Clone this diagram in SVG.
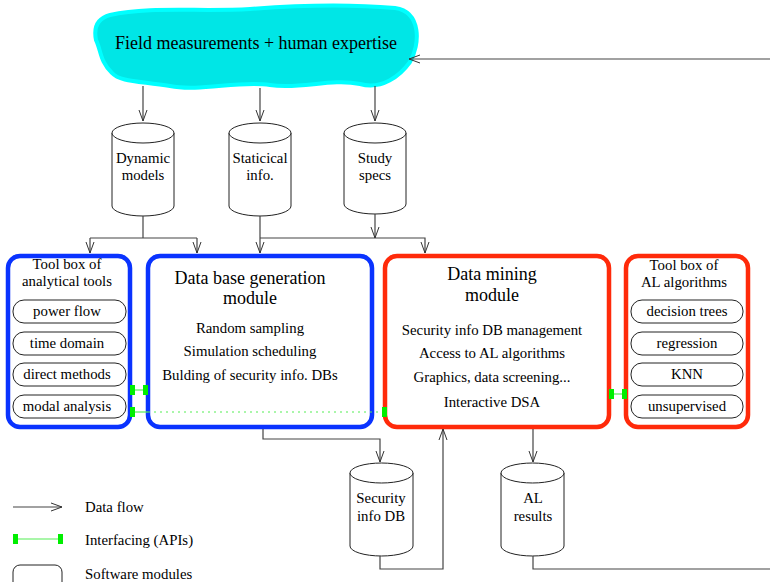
<svg xmlns="http://www.w3.org/2000/svg" width="770" height="582" viewBox="0 0 770 582" font-family="'Liberation Serif', 'DejaVu Serif', serif">
<defs>
<marker id="arr" markerWidth="12" markerHeight="10" refX="11" refY="5" orient="auto" markerUnits="userSpaceOnUse">
<polyline points="0,1 11,5 0,9" fill="none" stroke="#333" stroke-width="1"/>
</marker>
</defs>
<style>
text{font-family:'Liberation Serif','DejaVu Serif',serif;fill:#000;text-anchor:middle}
.t14{font-size:14.8px}
.t18{font-size:18px}
.flow{fill:none;stroke:#444;stroke-width:1.2}
.cyl{fill:#fff;stroke:#222;stroke-width:1}
.pill{fill:#fff;stroke:#222;stroke-width:1}
.blue{fill:#fff;stroke:#0a33ff;stroke-width:4.5}
.red{fill:#fff;stroke:#ff2a0a;stroke-width:4.5}
.api{stroke:#55ee55;stroke-width:1.2}
.sq{fill:#00ee00}
</style>

<g id="cloud">
<path d="M110,15 C150,6 200,12 250,9 C300,5 350,4 395,8 C422,12 420,45 410,62 C400,76 382,90 360,84 C330,78 300,90 270,85 C240,80 200,92 170,86 C140,81 120,82 112,73 C100,62 101,50 96,40 C93,25 99,18 110,15 Z" fill="#00e6e6" stroke="#00ffff" stroke-width="4"/>
<text x="256" y="49" style="font-size:18px">Field measurements + human expertise</text>
</g>

<g id="cyl-dynamic">
<path class="cyl" d="M112,133 A31,10 0 0 1 174,133 L174,206 A31,10 0 0 1 112,206 Z"/>
<path class="cyl" d="M112,133 A31,10 0 0 0 174,133" fill="none"/>
<text class="t14" x="143" y="163">Dynamic</text>
<text class="t14" x="143" y="180">models</text>
</g>
<g id="cyl-static">
<path class="cyl" d="M229,133 A31,10 0 0 1 291,133 L291,206 A31,10 0 0 1 229,206 Z"/>
<path class="cyl" d="M229,133 A31,10 0 0 0 291,133" fill="none"/>
<text class="t14" x="260" y="163">Staticical</text>
<text class="t14" x="260" y="180">info.</text>
</g>
<g id="cyl-study">
<path class="cyl" d="M344,133 A31,10 0 0 1 406,133 L406,204 A31,10 0 0 1 344,204 Z"/>
<path class="cyl" d="M344,133 A31,10 0 0 0 406,133" fill="none"/>
<text class="t14" x="375" y="163">Study</text>
<text class="t14" x="375" y="180">specs</text>
</g>

<g id="toolbox-analytical">
<rect class="blue" x="8" y="256" width="122" height="171" rx="12"/>
<text class="t14" x="67" y="269">Tool box of</text>
<text class="t14" x="67" y="286">analytical tools</text>
<rect class="pill" x="13" y="300" width="113" height="23" rx="11"/>
<text class="t14" x="67" y="316">power flow</text>
<rect class="pill" x="13" y="332" width="113" height="23" rx="11"/>
<text class="t14" x="67" y="348">time domain</text>
<rect class="pill" x="13" y="363" width="113" height="23" rx="11"/>
<text class="t14" x="67" y="379">direct methods</text>
<rect class="pill" x="13" y="395" width="113" height="23" rx="11"/>
<text class="t14" x="67" y="411">modal analysis</text>
</g>

<g id="dbgen">
<rect class="blue" x="148" y="256" width="224" height="171" rx="12"/>
<text class="t18" x="250" y="284">Data base generation</text>
<text class="t18" x="250" y="304">module</text>
<text class="t14" x="250" y="333">Random sampling</text>
<text class="t14" x="250" y="356">Simulation scheduling</text>
<text class="t14" x="250" y="380">Bulding of security info. DBs</text>
</g>

<g id="datamining">
<rect class="red" x="385" y="256" width="224" height="171" rx="12"/>
<text class="t18" x="492" y="280">Data mining</text>
<text class="t18" x="492" y="301">module</text>
<text class="t14" x="492" y="335">Security info DB management</text>
<text class="t14" x="492" y="358">Access to AL algorithms</text>
<text class="t14" x="492" y="382">Graphics, data screening...</text>
<text class="t14" x="492" y="407">Interactive DSA</text>
</g>

<g id="toolbox-al">
<rect class="red" x="626" y="256" width="122" height="171" rx="12"/>
<text class="t14" x="684" y="270">Tool box of</text>
<text class="t14" x="684" y="287">AL algorithms</text>
<rect class="pill" x="631" y="300" width="112" height="23" rx="11"/>
<text class="t14" x="687" y="316">decision trees</text>
<rect class="pill" x="631" y="332" width="112" height="23" rx="11"/>
<text class="t14" x="687" y="348">regression</text>
<rect class="pill" x="631" y="363" width="112" height="23" rx="11"/>
<text class="t14" x="687" y="379">KNN</text>
<rect class="pill" x="631" y="395" width="112" height="23" rx="11"/>
<text class="t14" x="687" y="411">unsupervised</text>
</g>

<g id="cyl-secdb">
<path class="cyl" d="M350,473 A31.5,10 0 0 1 413,473 L413,546 A31.5,10 0 0 1 350,546 Z"/>
<path class="cyl" d="M350,473 A31.5,10 0 0 0 413,473" fill="none"/>
<text class="t14" x="381" y="503">Security</text>
<text class="t14" x="381" y="521">info DB</text>
</g>
<g id="cyl-alresults">
<path class="cyl" d="M501,473 A31.5,10 0 0 1 564,473 L564,546 A31.5,10 0 0 1 501,546 Z"/>
<path class="cyl" d="M501,473 A31.5,10 0 0 0 564,473" fill="none"/>
<text class="t14" x="533" y="503">AL</text>
<text class="t14" x="533" y="521">results</text>
</g>

<g id="legend">
<line class="flow" x1="13" y1="507" x2="62" y2="507" marker-end="url(#arr)"/>
<text class="t14" x="85" y="512" style="text-anchor:start">Data flow</text>
<line class="api" x1="16" y1="539" x2="60" y2="539"/>
<rect class="sq" x="13" y="534" width="5" height="10"/>
<rect class="sq" x="58" y="534" width="5" height="10"/>
<text class="t14" x="85" y="545" style="text-anchor:start">Interfacing (APIs)</text>
<rect class="pill" x="13" y="565" width="49" height="24" rx="7"/>
<text class="t14" x="85" y="579" style="text-anchor:start">Software modules</text>
</g>

<g id="connectors">
<polyline class="flow" points="770,59 409,59" marker-end="url(#arr)"/>
<line class="flow" x1="143" y1="86" x2="143" y2="121" marker-end="url(#arr)"/>
<line class="flow" x1="260" y1="88" x2="260" y2="121" marker-end="url(#arr)"/>
<line class="flow" x1="375" y1="86" x2="375" y2="121" marker-end="url(#arr)"/>
<polyline class="flow" points="143,216 143,238"/>
<polyline class="flow" points="90,238 197,238"/>
<line class="flow" x1="90" y1="238" x2="90" y2="253" marker-end="url(#arr)"/>
<line class="flow" x1="197" y1="238" x2="197" y2="253" marker-end="url(#arr)"/>
<line class="flow" x1="260" y1="216" x2="260" y2="253" marker-end="url(#arr)"/>
<polyline class="flow" points="260,238 425,238 425,253" marker-end="url(#arr)"/>
<line class="flow" x1="375" y1="214" x2="375" y2="238" marker-end="url(#arr)"/>
<polyline class="flow" points="263,429 263,439 380,439 380,462" marker-end="url(#arr)"/>
<polyline class="flow" points="380,556 380,569 443,569 443,429" marker-end="url(#arr)"/>
<line class="flow" x1="533" y1="429" x2="533" y2="462" marker-end="url(#arr)"/>
<polyline class="flow" points="533,556 533,569 770,569"/>
<line class="api" x1="132" y1="390" x2="145" y2="390"/>
<rect class="sq" x="130" y="385" width="5" height="10"/>
<rect class="sq" x="143" y="385" width="5" height="10"/>
<line class="api" x1="132" y1="412" x2="148" y2="412"/>
<line class="api" x1="148" y1="412" x2="384" y2="412" stroke-dasharray="2,4"/>
<rect class="sq" x="130" y="407" width="5" height="10"/>
<rect class="sq" x="382" y="407" width="5" height="10"/>
<line class="api" x1="611" y1="394" x2="624" y2="394"/>
<rect class="sq" x="609" y="389" width="5" height="10"/>
<rect class="sq" x="622" y="389" width="5" height="10"/>
</g>
</svg>
